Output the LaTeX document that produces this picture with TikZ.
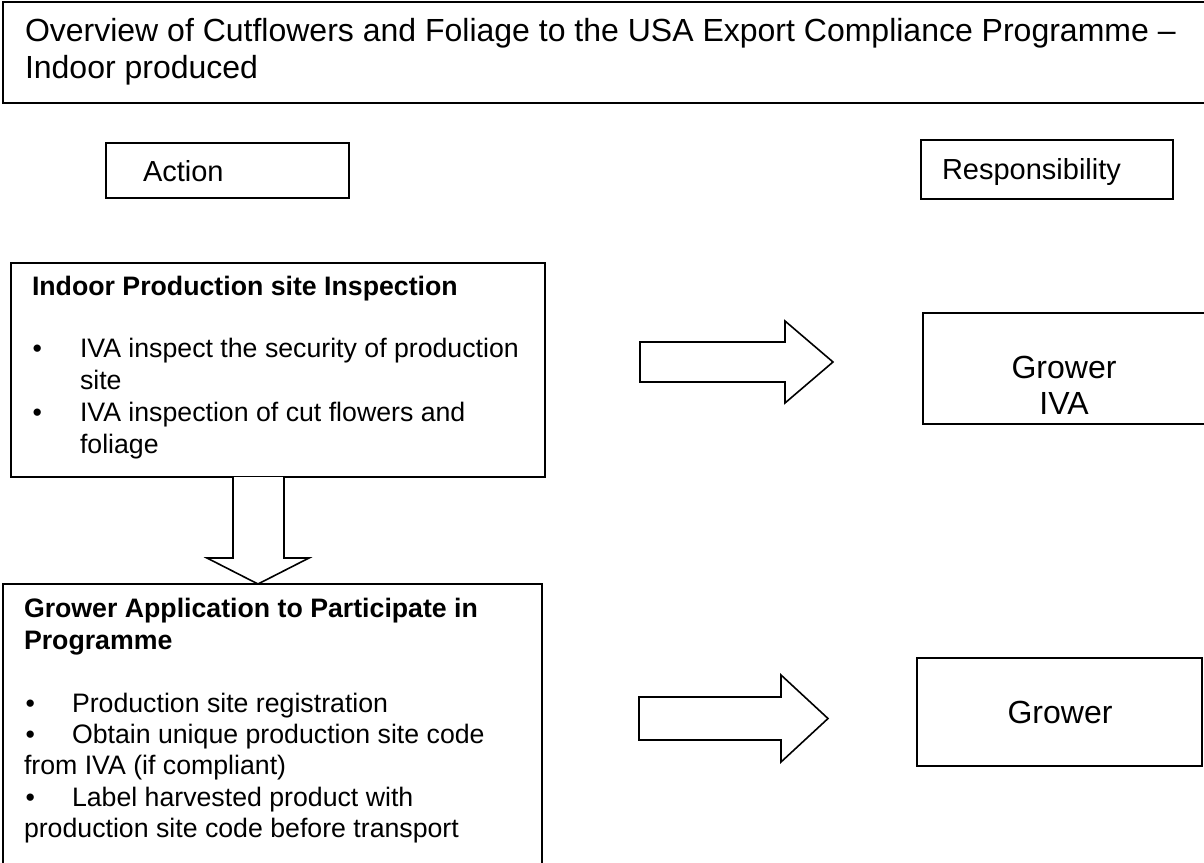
\documentclass[tikz,border=0pt]{standalone}
\usepackage{fontspec}
\setmainfont{Liberation Sans}
\usetikzlibrary{calc}
\begin{document}
\begin{tikzpicture}[x=1pt,y=-1pt,
  frame/.style={draw=black, line width=1.8pt, inner sep=0pt, outer sep=0pt, anchor=north west},
  blk/.style={draw=black, line width=1.6pt, fill=white, line join=miter},
  txt/.style={anchor=base west, inner sep=0pt, outer sep=0pt},
  ctxt/.style={anchor=base, inner sep=0pt, outer sep=0pt},
  fbig/.style={font=\fontsize{32}{37}\selectfont},
  flab/.style={font=\fontsize{29}{33}\selectfont},
  fbody/.style={font=\fontsize{26.7}{31}\selectfont},
  fbold/.style={font=\fontsize{26.7}{31}\selectfont\bfseries},
]
\useasboundingbox (0,0) rectangle (1204,862);
\begin{scope}
\clip (0,0) rectangle (1204,862);
% boxes
\node[frame, minimum width=1210pt, minimum height=101pt] (title) at (3,2) {};
\node[frame, minimum width=243pt, minimum height=55pt] (action) at (106,143) {};
\node[frame, minimum width=252pt, minimum height=59pt] (resp) at (921,140) {};
\node[frame, minimum width=534pt, minimum height=214pt] (b1) at (11,263) {};
\node[frame, minimum width=539pt, minimum height=300pt] (b2) at (3,584) {};
\node[frame, minimum width=290pt, minimum height=111pt] (r1) at (923,313) {};
\node[frame, minimum width=285pt, minimum height=108pt] (r2) at (917,658) {};

% down block arrow from b1 to b2
\draw[blk] ($(b1.south west)+(222,0)$) -- ++(0,81) -- ++(-26,0)
  -- ($(b2.north west)+(255,0)$)
  -- ($(b1.south west)+(298,81)$) -- ++(-25,0) -- ($(b1.south west)+(273,0)$);

% right block arrows
\coordinate (a1s) at (640,362);
\coordinate (a1t) at (833,362);
\draw[blk] ($(a1s)+(0,-20)$) -- ($(a1s)+(145,-20)$) -- ($(a1s)+(145,-41)$) -- (a1t)
  -- ($(a1s)+(145,41)$) -- ($(a1s)+(145,20)$) -- ($(a1s)+(0,20)$) -- cycle;
\coordinate (a2s) at (639,718.5);
\coordinate (a2t) at (828,718.5);
\draw[blk] ($(a2s)+(0,-21.5)$) -- ($(a2s)+(142,-21.5)$) -- ($(a2s)+(142,-43.5)$) -- (a2t)
  -- ($(a2s)+(142,43.5)$) -- ($(a2s)+(142,21.5)$) -- ($(a2s)+(0,21.5)$) -- cycle;

% title text
\node[txt, fbig] (tl1) at (25,41) {Overview of Cutflowers and Foliage to the USA Export Compliance Programme –};
\node[txt, fbig] (tl2) at (25,78) {Indoor produced};

% headers
\node[txt, flab] (actl) at (143,181) {Action};
\node[txt, flab] (respl) at (942,179) {Responsibility};

% box 1
\node[txt, fbold] (b1h) at (32,295) {Indoor Production site Inspection};
\node[txt, fbody] (b1d1) at (32.5,357) {•};
\node[txt, fbody] (b1l1) at (80,357) {IVA inspect the security of production};
\node[txt, fbody] (b1l2) at (80,389) {site};
\node[txt, fbody] (b1d2) at (32.5,421) {•};
\node[txt, fbody] (b1l3) at (80,421) {IVA inspection of cut flowers and};
\node[txt, fbody] (b1l4) at (80,453) {foliage};

% box 2
\node[txt, fbold] (b2h1) at (24,617) {Grower Application to Participate in};
\node[txt, fbold] (b2h2) at (24,649) {Programme};
\node[txt, fbody] (b2d1) at (25.5,712) {•};
\node[txt, fbody] (b2l1) at (72,712) {Production site registration};
\node[txt, fbody] (b2d2) at (25.5,743) {•};
\node[txt, fbody] (b2l2) at (72,743) {Obtain unique production site code};
\node[txt, fbody] (b2l3) at (24,774) {from IVA (if compliant)};
\node[txt, fbody] (b2d3) at (25.5,806) {•};
\node[txt, fbody] (b2l4) at (72,806) {Label harvested product with};
\node[txt, fbody] (b2l5) at (24,837) {production site code before transport};

% responsibility texts
\node[ctxt, fbig] (r1a) at (1064,378) {Grower};
\node[ctxt, fbig] (r1b) at (1064,414) {IVA};
\node[ctxt, fbig] (r2a) at (1060,723) {Grower};
\end{scope}
\end{tikzpicture}
\end{document}
